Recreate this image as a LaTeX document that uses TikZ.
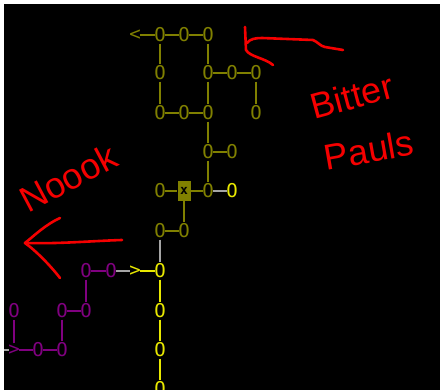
\documentclass[tikz,border=0pt]{standalone}
\usepackage{fontspec}
\newfontfamily\glyphfont{DejaVu Sans Mono}
\newfontfamily\handfont{Liberation Sans}
\definecolor{dimyellow}{RGB}{128,128,0}
\definecolor{brightyellow}{RGB}{232,232,0}
\definecolor{plum}{RGB}{128,0,128}
\definecolor{linkgrey}{RGB}{165,165,165}
\definecolor{pen}{RGB}{245,0,0}

\begin{document}
\begin{tikzpicture}[x=1pt,y=-1pt,
    glyph/.style={font=\glyphfont\fontsize{19}{19}\selectfont, inner xsep=-0.8pt, inner ysep=1.2pt},
    olv/.style={glyph, text=dimyellow},
    yel/.style={glyph, text=brightyellow},
    pur/.style={glyph, text=plum},
    olvline/.style={draw=dimyellow, line width=1.6pt},
    yelline/.style={draw=brightyellow, line width=1.6pt},
    purline/.style={draw=plum, line width=1.6pt},
    greyline/.style={draw=linkgrey, line width=1.6pt},
    redpen/.style={draw=pen, line width=2.6pt, line cap=round, line join=round},
    scrawl/.style={text=pen, inner sep=0pt, font=\handfont\fontsize{36}{36}\selectfont}]
    \fill[white] (0,0) rectangle (440,390);
    \fill[black] (4,4) rectangle (440,390);
    \useasboundingbox (0,0) rectangle (440,390);

    \node[olv] (lt) at (135,35) {<};
    \node[olv] (a1) at (160,35) {O};
    \node[olv] (a2) at (184,35) {O};
    \node[olv] (a3) at (208,35) {O};
    \node[olv] (b1) at (160,73) {O};
    \node[olv] (b3) at (208,73) {O};
    \node[olv] (b4) at (232,73) {O};
    \node[olv] (b5) at (256,73) {O};
    \node[olv] (c1) at (160,113) {O};
    \node[olv] (c2) at (184,113) {O};
    \node[olv] (c3) at (208,113) {O};
    \node[olv] (c5) at (256,113) {O};
    \node[olv] (d3) at (208,152) {O};
    \node[olv] (d4) at (232,152) {O};
    \node[olv] (e1) at (160,191) {O};
    \node[fill=dimyellow, minimum width=13pt, minimum height=20pt, inner sep=0pt,
          font=\glyphfont\bfseries\fontsize{13}{13}\selectfont, text=black] (e2) at (184,191) {x};
    \node[olv] (e3) at (208,191) {O};
    \node[yel] (e4) at (232,191) {O};
    \node[olv] (f1) at (160,231) {O};
    \node[olv] (f2) at (184,231) {O};

    \node[yel] (gt) at (135,271) {>};
    \node[yel] (g) at (160,271) {O};
    \node[yel] (h) at (160,311) {O};
    \node[yel] (i) at (160,350) {O};
    \node[yel] (j) at (160,389) {O};

    \node[pur] (p1) at (86,271) {O};
    \node[pur] (p2) at (111,271) {O};
    \node[pur] (q0) at (14,311) {O};
    \node[pur] (q1) at (62,311) {O};
    \node[pur] (q2) at (86,311) {O};
    \node[pur] (rt) at (14,350) {>};
    \node[pur] (r1) at (38,350) {O};
    \node[pur] (r2) at (62,350) {O};
    \coordinate (edge) at (4,350);

    \draw[olvline] (lt) -- (a1) -- (a2) -- (a3);
    \draw[olvline] (a1) -- (b1) -- (c1) -- (c2) -- (c3);
    \draw[olvline] (a3) -- (b3) -- (c3) -- (d3) -- (e3);
    \draw[olvline] (b3) -- (b4) -- (b5) -- (c5);
    \draw[olvline] (d3) -- (d4);
    \draw[olvline] (e1) -- (e2) -- (e3);
    \draw[olvline] (e2) -- (f2) -- (f1);
    \draw[greyline] (e3) -- (e4);
    \draw[greyline] (f1) -- (g);
    \draw[yelline] (gt) -- (g) -- (h) -- (i) -- (j);
    \draw[greyline] (p2) -- (gt);
    \draw[purline] (p1) -- (p2);
    \draw[purline] (p1) -- (q2) -- (q1) -- (r2) -- (r1) -- (rt) -- (q0);
    \draw[greyline] (edge) -- (rt);

    \node[scrawl, rotate=28] (noook) at (68,178) {Noook};
    \node[scrawl, rotate=15] (bitter) at (352,96) {Bitter};
    \node[scrawl, rotate=10] (pauls) at (369,150) {Pauls};

    \draw[redpen] (245,27) -- (246,50) .. controls (250,57) and (265,58) .. (273,65);
    \draw[redpen] (247,43) .. controls (250,39) and (255,38) .. (262,38) -- (313,40)
        .. controls (318,42) and (320,46) .. (325,47) -- (343,50);
    \draw[redpen] (60,218) .. controls (45,225) and (35,235) .. (25,243)
        .. controls (35,250) and (50,265) .. (60,278);
    \draw[redpen] (25,243) .. controls (60,244) and (90,241) .. (122,240);
\end{tikzpicture}
\end{document}
